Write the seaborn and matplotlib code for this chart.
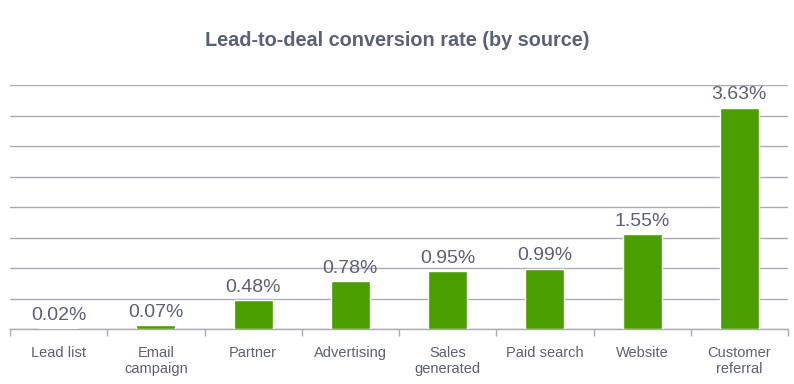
import seaborn as sns
import matplotlib.pyplot as plt
import pandas as pd

sources = ["Lead list", "Email\ncampaign", "Partner", "Advertising", "Sales\ngenerated",
           "Paid search", "Website", "Customer\nreferral"]
rates = [0.02, 0.07, 0.48, 0.78, 0.95, 0.99, 1.55, 3.63]

df = pd.DataFrame({"Source": sources, "Rate": rates})

sns.set_theme(style="white")
plt.rcParams['font.family'] = ['Liberation Sans', 'DejaVu Sans']

text_col = '#5a6075'
grid_col = '#a9a9b8'

fig = plt.figure(figsize=(7.94, 3.84), dpi=100)
ax = fig.add_axes([10 / 794, 55 / 384, 778 / 794, 244 / 384])

sns.barplot(data=df, x="Source", y="Rate", color='#4a9e00', width=0.4,
            saturation=1, ax=ax, zorder=3)

ax.set_ylim(0, 4)
ax.set_xlim(-0.5, len(sources) - 0.5)
ax.set_yticks([i * 0.5 for i in range(9)])
ax.set_yticklabels([])
ax.tick_params(axis='y', length=0)
ax.grid(axis='y', color=grid_col, linewidth=1, zorder=0)

# category boundary ticks on the x axis
ax.set_xticks([i - 0.5 for i in range(len(sources) + 1)], minor=True)
ax.tick_params(axis='x', which='minor', bottom=True, length=5, color=grid_col, width=1)
ax.tick_params(axis='x', which='major', bottom=False, labelsize=10.5,
               labelcolor=text_col, pad=6)
ax.set_xlabel("")
ax.set_ylabel("")

for side in ['top', 'right', 'left']:
    ax.spines[side].set_visible(False)
ax.spines['bottom'].set_color(grid_col)
ax.spines['bottom'].set_linewidth(1)
ax.spines['bottom'].set_zorder(2)

for p, v in zip(ax.patches, rates):
    ax.annotate(f'{v:.2f}%', (p.get_x() + p.get_width() / 2, p.get_height()),
                ha='center', va='bottom', xytext=(0, 3), textcoords='offset points',
                fontsize=14, color=text_col)

fig.text(0.5, 1 - 40 / 384, "Lead-to-deal conversion rate (by source)", ha='center',
         va='center', fontsize=14.3, fontweight='bold', color=text_col)

fig.savefig("out.png", dpi=100)
